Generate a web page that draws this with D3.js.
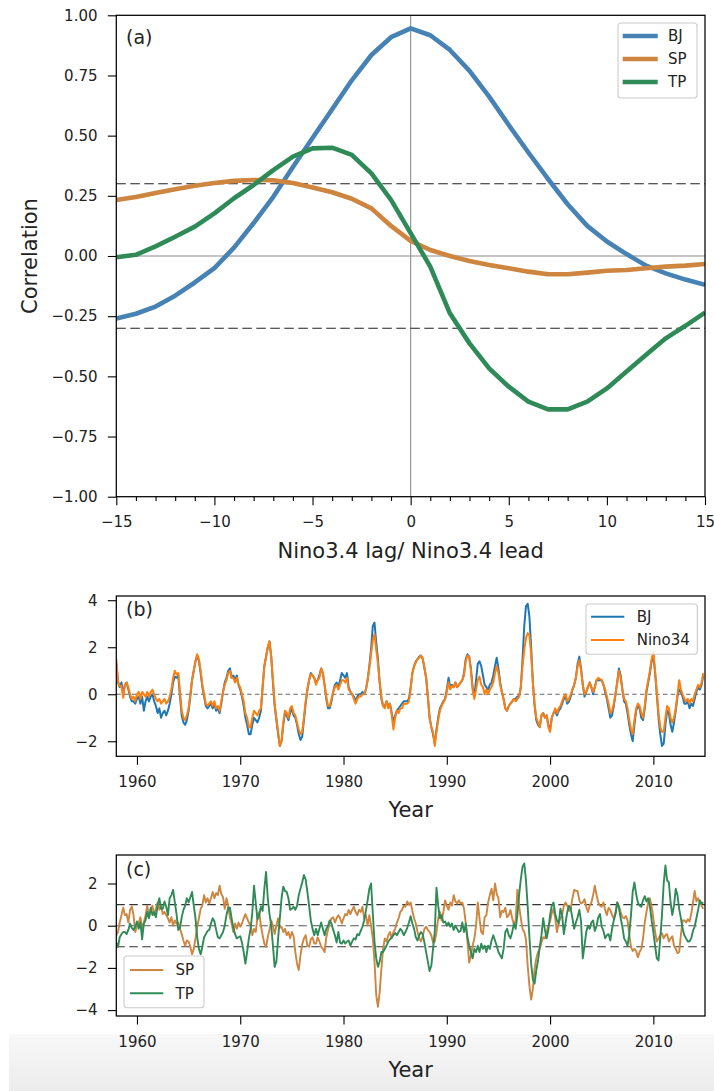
<!DOCTYPE html>
<html><head><meta charset="utf-8">
<script src="https://cdn.jsdelivr.net/npm/d3@7"></script>
<style>
body{margin:0;background:#fff;}
svg{display:block;}
</style></head><body>
<script>
// ---------------- DATA ----------------
const lags = [-15,-14,-13,-12,-11,-10,-9,-8,-7,-6,-5,-4,-3,-2,-1,0,1,2,3,4,5,6,7,8,9,10,11,12,13,14,15];
const corrBJ = [-0.26,-0.24,-0.21,-0.165,-0.11,-0.05,0.035,0.137,0.246,0.37,0.49,0.61,0.73,0.835,0.909,0.946,0.917,0.856,0.769,0.662,0.544,0.43,0.32,0.215,0.125,0.06,0.008,-0.04,-0.072,-0.098,-0.12];
const corrSP = [0.233,0.245,0.262,0.277,0.292,0.303,0.312,0.316,0.315,0.303,0.285,0.265,0.238,0.198,0.125,0.063,0.025,0.0,-0.021,-0.037,-0.051,-0.065,-0.076,-0.076,-0.069,-0.061,-0.058,-0.051,-0.044,-0.04,-0.033];
const corrTP = [-0.005,0.005,0.04,0.08,0.122,0.177,0.24,0.295,0.357,0.413,0.447,0.45,0.42,0.343,0.233,0.095,-0.044,-0.238,-0.363,-0.467,-0.543,-0.605,-0.637,-0.637,-0.605,-0.55,-0.48,-0.41,-0.342,-0.29,-0.235];
const corrTicks = [-1,-0.75,-0.5,-0.25,0,0.25,0.5,0.75,1];
const lagTicks = [-15,-10,-5,0,5,10,15];
const sigLevels = [0.3,-0.3];

// time series: bimonthly samples starting Jan 1958
const startYear = 1958, perYear = 6;
const bjIndex = [
1.3,0.5,0.3,0.5,0.0,0.4, 0.5,0.2,-0.1,-0.3,-0.3,-0.4, -0.2,-0.1,-0.4,-0.1,-0.7,-0.3, -0.1,-0.3,-0.1,0.0,-0.3,-0.5,
-0.8,-0.6,-1.0,-0.8,-0.7,-0.9, -0.7,-0.4,0.0,0.5,0.75,0.7, 0.8,-0.1,-0.9,-1.2,-1.3,-1.1, -0.7,-0.1,0.6,1.0,1.4,1.65,
1.4,0.9,0.3,-0.1,-0.5,-0.6, -0.5,-0.4,-0.6,-0.4,-0.7,-0.6, -0.8,-0.4,0.1,0.5,0.7,1.0, 1.1,0.7,0.8,0.6,0.8,0.4,
0.2,-0.1,-0.5,-1.0,-1.3,-1.7, -1.7,-1.3,-1.0,-1.1,-1.2,-1.0, -0.7,0.3,1.2,1.6,2.0,2.25, 1.6,0.5,-0.5,-1.1,-1.7,-2.2,
-2.0,-1.3,-0.8,-0.9,-1.1,-0.8, -0.6,-0.9,-1.0,-1.3,-1.7,-1.95, -1.8,-1.1,-0.4,0.2,0.6,0.9, 0.8,0.7,0.5,0.6,0.8,1.1,
0.9,0.4,-0.2,-0.6,-0.6,-0.3, 0.1,0.4,0.5,0.3,0.6,0.9, 0.8,0.7,0.9,0.3,0.1,0.0, -0.1,-0.3,-0.1,0.0,0.0,0.1,
0.0,0.2,0.6,1.2,1.9,2.9, 3.05,2.2,1.5,0.5,-0.2,-0.5, -0.5,-0.3,-0.5,-0.4,-0.8,-1.2, -0.9,-0.7,-0.6,-0.5,-0.4,-0.3,
-0.3,-0.3,-0.2,0.3,0.9,1.2, 1.4,1.5,1.6,1.65,1.5,1.1, 0.7,-0.1,-1.0,-1.4,-1.7,-2.1, -1.5,-1.0,-0.6,-0.45,-0.3,-0.2,
0.2,0.7,0.3,0.4,0.3,0.5, 0.3,0.4,0.5,0.6,0.9,1.5, 1.7,1.6,1.1,0.3,-0.1,0.6, 1.3,1.4,1.2,0.8,0.4,0.3,
0.2,0.4,0.5,0.8,1.2,1.55, 1.1,0.5,0.1,-0.2,-0.6,-0.7, -0.5,-0.4,-0.3,-0.2,-0.2,-0.1, -0.1,0.3,1.5,2.9,3.75,3.85,
3.3,2.0,0.5,-0.5,-1.1,-1.3, -1.4,-0.9,-0.8,-1.0,-0.9,-1.3, -1.5,-1.0,-0.8,-0.7,-0.9,-0.7, -0.6,-0.4,-0.2,-0.1,-0.4,-0.3,
-0.1,0.2,0.4,0.7,1.3,1.6, 1.1,0.4,-0.1,0.1,0.3,0.5, 0.3,0.0,0.3,0.6,0.6,0.6, 0.6,0.4,0.1,-0.2,-0.6,-1.0,
-0.9,-0.5,0.0,0.5,1.1,0.8, 0.2,-0.3,-0.4,-0.8,-1.3,-1.7, -2.0,-1.3,-0.7,-0.5,-0.6,-1.0, -1.1,-0.6,0.1,0.5,0.9,1.4,
1.7,0.9,0.0,-1.0,-1.7,-2.2, -2.1,-1.3,-0.7,-0.8,-1.3,-1.6, -1.2,-0.7,-0.1,0.2,0.1,-0.1, -0.4,-0.4,-0.3,-0.6,-0.4,-0.5,
-0.2,0.1,0.3,0.2,0.4,0.8];
const nino34 = [
1.5,0.55,0.35,0.35,-0.15,0.4, 0.5,0.3,0.0,-0.2,-0.1,-0.3, 0.0,0.1,-0.2,0.1,0.0,-0.1, 0.1,-0.1,0.1,0.2,0.0,-0.2,
-0.3,-0.2,-0.4,-0.3,-0.2,-0.4, -0.3,-0.1,0.2,0.7,1.0,0.85, 0.9,0.1,-0.7,-1.0,-1.1,-0.9, -0.6,0.0,0.6,1.0,1.4,1.7,
1.5,1.0,0.4,0.0,-0.4,-0.5, -0.4,-0.3,-0.5,-0.3,-0.6,-0.5, -0.7,-0.3,0.1,0.4,0.6,0.9, 1.0,0.7,0.7,0.5,0.7,0.4,
0.3,0.0,-0.3,-0.8,-1.0,-1.4, -1.4,-1.0,-0.7,-0.8,-0.9,-0.7, -0.6,0.3,1.2,1.6,2.0,2.25, 1.6,0.6,-0.4,-1.0,-1.6,-2.2,
-2.0,-1.2,-0.7,-0.8,-1.0,-0.6, -0.5,-0.8,-0.9,-1.2,-1.5,-1.7, -1.6,-1.0,-0.3,0.2,0.6,0.85, 0.8,0.7,0.4,0.6,0.7,1.1,
0.9,0.4,-0.1,-0.5,-0.5,-0.2, 0.1,0.3,0.4,0.2,0.4,0.6, 0.6,0.5,0.7,0.2,0.1,0.0, -0.2,-0.4,-0.2,-0.1,-0.1,0.0,
0.0,0.2,0.6,1.1,1.7,2.3, 2.55,1.9,1.3,0.5,-0.1,-0.5, -0.6,-0.3,-0.6,-0.4,-0.9,-1.5, -1.0,-0.7,-0.8,-0.6,-0.6,-0.4,
-0.4,-0.4,-0.3,0.2,0.9,1.2, 1.35,1.5,1.55,1.65,1.55,1.15, 0.7,-0.1,-1.0,-1.4,-1.6,-2.2, -1.6,-1.1,-0.7,-0.5,-0.35,-0.2,
0.1,0.5,0.2,0.35,0.3,0.5, 0.3,0.4,0.5,0.6,0.8,1.4, 1.65,1.6,1.0,0.2,-0.2,0.2, 0.6,0.75,0.4,0.3,0.0,0.2,
0.0,0.2,0.3,0.5,0.9,1.2, 0.9,0.4,0.1,-0.2,-0.6,-0.7, -0.5,-0.4,-0.3,-0.2,-0.3,-0.2, -0.1,0.3,1.2,1.9,2.4,2.6,
2.5,1.7,0.5,-0.4,-1.0,-1.2, -1.4,-0.9,-0.8,-1.0,-0.9,-1.4, -1.6,-1.0,-0.8,-0.6,-0.8,-0.6, -0.5,-0.3,-0.1,0.0,-0.3,-0.2,
0.0,0.2,0.4,0.7,1.2,1.45, 1.0,0.4,0.0,0.1,0.3,0.5, 0.3,0.1,0.3,0.6,0.7,0.65, 0.6,0.4,0.2,-0.1,-0.4,-0.8,
-0.7,-0.4,0.0,0.5,1.0,0.7, 0.2,-0.2,-0.3,-0.6,-1.1,-1.5, -1.7,-1.1,-0.6,-0.4,-0.5,-0.8, -1.0,-0.5,0.2,0.6,1.0,1.5,
1.8,1.0,0.1,-0.8,-1.4,-1.6, -1.6,-1.0,-0.5,-0.6,-1.0,-1.2, -1.0,-0.6,0.0,0.6,0.2,0.0, -0.2,-0.3,-0.2,-0.4,-0.2,-0.3,
0.0,0.2,0.4,0.3,0.5,0.9];
const spIndex = [
-0.45,-0.3,0.15,0.5,0.85,0.5, 0.55,0.15,0.75,0.9,0.5,-0.3, 0.0,0.1,0.4,-0.15,0.15,0.5, 0.95,0.4,0.75,0.95,0.5,0.8,
1.1,0.75,0.95,0.55,0.65,0.5, 0.35,0.15,0.4,0.0,0.25,0.1, 0.15,-0.15,-0.4,-0.7,-0.95,-0.7, -0.75,-1.0,-1.35,-1.1,-0.6,-0.05,
0.35,0.8,0.95,1.45,1.1,1.3, 1.05,1.3,1.6,1.3,1.55,1.45, 1.9,1.5,1.35,0.8,1.3,0.95, 0.4,0.1,-0.3,0.1,-0.15,0.15,
-0.05,0.1,0.35,0.55,0.35,0.15, 0.0,-0.45,-0.15,-0.3,0.4,0.65, 0.0,-0.45,-0.85,-1.0,-0.55,-0.2, 0.25,0.0,-0.4,0.0,0.35,-0.1,
-0.05,-0.3,-0.15,-0.45,-0.3,-0.6, -0.3,-0.5,-1.25,-1.8,-2.1,-1.4, -0.9,-0.6,-0.45,-0.95,-1.0,-0.65, -0.55,-0.85,-0.85,-0.55,-0.75,-1.0,
-1.1,-1.25,-0.55,-0.2,0.15,0.35, 0.4,0.15,0.35,0.5,0.35,0.1, 0.35,0.55,0.5,0.75,0.55,0.75, 0.9,0.65,0.5,0.75,0.65,0.9,
0.35,0.5,0.0,0.5,0.0,-0.6, -1.7,-3.3,-3.85,-3.15,-2.05,-1.1, -0.6,-0.75,-0.45,-0.3,-0.6,-0.3, -0.15,0.15,0.35,0.65,0.75,0.95,
0.9,1.15,1.0,1.1,0.7,0.35, 0.1,-0.3,-0.6,-0.75,-0.5,-0.15, -0.05,-0.2,-0.3,-0.45,-0.8,-0.75, -0.3,0.35,0.65,0.25,0.65,1.2,
0.95,0.75,1.1,0.95,1.45,1.15, 1.05,1.2,1.05,1.1,0.8,0.15, -0.75,-1.75,-1.4,-0.95,-0.6,0.0, 1.1,0.35,-0.3,-0.4,0.4,0.5,
1.1,1.45,1.75,1.2,2.0,1.5, 1.3,0.4,0.7,0.65,0.85,0.4, 0.5,0.75,0.35,0.05,0.25,1.7, 0.95,0.35,-0.15,-0.3,-0.65,-1.9,
-2.85,-3.5,-3.0,-2.05,-1.55,-1.25, -1.1,-0.8,-0.55,-0.6,-0.3,0.0, 0.2,0.6,0.8,0.35,-0.3,0.15, 0.35,0.5,0.95,1.1,0.95,0.7,
0.8,1.3,1.7,1.65,1.65,1.2, 1.05,1.1,1.25,0.9,0.65,0.95, 1.1,1.45,1.9,1.45,1.1,0.95, 0.9,1.1,0.75,0.5,0.85,0.75,
0.5,0.35,0.6,1.1,0.95,0.65, 0.4,0.35,0.45,0.25,-0.4,-1.0, -1.2,-1.1,-1.2,-1.5,-1.25,-1.1, -0.6,0.15,0.65,1.1,1.3,0.9,
0.35,-0.3,-0.75,-0.6,-0.45,-0.35, -0.6,-0.45,-0.4,-0.75,-0.6,-0.5, -0.95,-1.1,-1.3,-1.25,-0.45,0.25, 0.25,0.15,0.3,0.2,0.55,1.1,
1.65,1.15,1.3,1.1,0.95,0.8];
const tpIndex = [
-0.8,-1.0,-0.55,-0.4,-0.3,-0.3, -0.4,-0.2,0.1,-0.1,-0.2,-0.05, 0.2,-0.15,0.15,-0.65,0.1,0.25, 0.65,0.35,0.85,0.5,0.65,0.4,
0.95,1.3,0.8,0.8,1.15,0.9, 0.5,1.3,1.45,1.7,1.1,0.55, -0.2,-0.1,0.4,0.75,0.95,1.3, 1.1,1.35,1.6,0.95,0.35,-0.55,
-1.1,-1.35,-1.0,-0.55,-0.4,-0.25, -0.2,0.1,0.35,0.2,-0.2,-0.55, -0.6,-0.45,-0.3,0.0,0.5,0.85, 0.85,0.35,-0.1,-0.4,-0.6,-0.55,
-0.5,-0.8,-1.25,-1.8,-1.25,-0.6, -0.15,0.6,1.9,1.1,0.3,0.5, 0.9,0.7,1.75,2.55,1.3,0.55, 0.0,-0.95,-1.95,-1.7,-0.6,0.35,
1.3,1.85,1.65,1.6,1.3,0.75, 0.8,0.9,0.75,0.95,1.45,1.75, 2.05,2.4,2.2,1.6,0.95,0.25, -0.15,-0.45,-0.15,-0.45,-0.15,0.15,
-0.15,-0.45,-0.15,0.0,0.25,0.1, -0.2,-0.45,-0.8,-0.3,-0.8,-0.85, -0.7,-0.85,-0.75,-0.7,-0.95,-0.75, -0.6,-0.65,-0.4,-0.45,-0.25,-0.05,
0.25,0.7,1.2,1.75,2.0,0.6, -0.75,-1.55,-1.95,-1.7,-1.25,-1.25, -1.1,-0.95,-0.75,-0.65,-0.55,-0.45, -0.35,-0.45,-0.3,-0.15,-0.25,-0.45,
-0.3,-0.1,0.15,0.45,0.1,-0.15, -0.55,-0.7,-0.45,-0.3,-0.4,-0.8, -1.25,-1.7,-2.15,-1.9,-1.1,-0.3, 1.8,0.95,0.35,0.5,0.15,0.2,
0.0,0.15,-0.05,0.1,-0.2,0.0, -0.15,-0.3,-0.25,0.15,-0.3,0.1, -0.55,-0.95,-1.25,-1.55,-1.1,-1.25, -0.95,-1.25,-0.85,-1.1,-0.95,-1.25,
-0.95,-1.1,-0.7,-0.45,-0.7,-0.95, -1.25,-1.4,-1.55,-1.1,-0.3,-0.15, -0.45,-0.6,-0.3,0.1,-0.15,0.5, 1.45,2.2,2.8,2.95,2.15,0.9,
-0.55,-1.8,-2.55,-2.75,-2.1,-1.65, -1.0,-0.45,0.35,-0.2,-0.6,-0.2, 0.5,0.95,1.1,0.55,0.25,0.1, 0.8,0.5,-0.4,0.15,0.65,0.95,
0.8,0.35,-0.15,0.15,0.4,0.75, 0.2,-1.55,-0.95,-0.3,0.0,-0.15, 0.15,0.25,-0.25,0.0,0.4,0.55, -0.05,-0.25,-0.6,-0.45,-0.4,-0.7,
-0.15,0.25,0.55,1.1,0.85,0.35, -0.05,-0.6,-0.75,-0.95,-0.4,0.5, 1.6,2.05,1.5,1.1,0.95,0.9, 1.2,1.4,1.15,1.3,0.9,0.25,
-0.3,-0.95,-1.55,-1.65,-0.6,0.5, 2.0,2.85,2.15,2.05,1.1,0.5, 0.95,1.75,1.45,0.8,0.35,-0.15, -0.45,-0.6,-0.75,-0.75,-0.6,-0.25,
-0.05,0.35,0.75,1.2,1.05,1.1];
const yearTicks = [1960,1970,1980,1990,2000,2010];
const bTicks = [-2,0,2,4];
const cTicks = [-4,-2,0,2];
const cThresholds = [1,0,-1];

// ---------------- DRAWING ----------------
const W = 714, H = 1091;
const FONT = "'DejaVu Sans', 'Liberation Sans', sans-serif";
const svg = d3.select("body").append("svg").attr("width", W).attr("height", H)
  .style("font-family", FONT);
const defs = svg.append("defs");

// screenshot band at bottom
const grad = defs.append("linearGradient").attr("id", "band").attr("x1", 0).attr("y1", 0).attr("x2", 0).attr("y2", 1);
grad.append("stop").attr("offset", 0).attr("stop-color", "#f8f8f8");
grad.append("stop").attr("offset", 1).attr("stop-color", "#ececec");
svg.append("rect").attr("x", 9).attr("y", 1034).attr("width", W - 9).attr("height", H - 1034).attr("fill", "url(#band)");

const L = 116.3, R = 705;
const TICK = 8.5, TICKW = 1.1;

function makePanel(id, top, bottom, xDomain, yDomain) {
  const x = d3.scaleLinear().domain(xDomain).range([L, R]);
  const y = d3.scaleLinear().domain(yDomain).range([bottom, top]);
  defs.append("clipPath").attr("id", "clip" + id).append("rect")
    .attr("x", L).attr("y", top).attr("width", R - L).attr("height", bottom - top);
  const g = svg.append("g");
  const plot = g.append("g").attr("clip-path", "url(#clip" + id + ")");
  return { x, y, g, plot, top, bottom };
}

function styleAxis(sel) {
  sel.select(".domain").remove();
  sel.selectAll(".tick line").attr("stroke", "#000").attr("stroke-width", TICKW);
  sel.selectAll(".tick text").attr("fill", "#222").style("font-size", "15px").style("font-family", FONT);
}

function drawAxes(p, xTicks, yTicks, yFormat, xFormat) {
  const ax = p.g.append("g").attr("transform", `translate(0,${p.bottom})`)
    .call(d3.axisBottom(p.x).tickValues(xTicks).tickSize(TICK).tickPadding(11.5).tickFormat(xFormat));
  styleAxis(ax);
  const ay = p.g.append("g").attr("transform", `translate(${L},0)`)
    .call(d3.axisLeft(p.y).tickValues(yTicks).tickSize(TICK).tickPadding(10.3).tickFormat(yFormat));
  styleAxis(ay);
}

function frame(p) {
  p.g.append("rect").attr("x", L).attr("y", p.top).attr("width", R - L).attr("height", p.bottom - p.top)
    .attr("fill", "none").attr("stroke", "#000").attr("stroke-width", 1.25);
}

function legend(g, box, rows, x0, x1, tx, lw) {
  g.append("rect").attr("x", box[0]).attr("y", box[1]).attr("width", box[2]).attr("height", box[3])
    .attr("rx", 3).attr("fill", "#fff").attr("fill-opacity", 0.8).attr("stroke", "#cccccc").attr("stroke-width", 1.1);
  rows.forEach(r => {
    g.append("line").attr("x1", x0).attr("x2", x1).attr("y1", r.y).attr("y2", r.y)
      .attr("stroke", r.color).attr("stroke-width", lw);
    g.append("text").attr("x", tx).attr("y", r.y).attr("dy", "0.36em").text(r.label)
      .style("font-size", "15px").attr("fill", "#222");
  });
}

function panelLabel(g, text, y) {
  g.append("text").attr("x", 126).attr("y", y).text(text).style("font-size", "19px").attr("fill", "#222");
}

function axisLabelX(g, text, y) {
  g.append("text").attr("x", (L + R) / 2).attr("y", y).attr("text-anchor", "middle").text(text)
    .style("font-size", "21px").attr("fill", "#222");
}

// ---- Panel (a)
const pa = makePanel("a", 15.3, 496.7, [-15, 15], [-1, 1]);
// reference lines
pa.plot.append("line").attr("x1", L).attr("x2", R).attr("y1", pa.y(0)).attr("y2", pa.y(0))
  .attr("stroke", "#8c8c8c").attr("stroke-width", 1.1);
pa.plot.append("line").attr("x1", pa.x(0)).attr("x2", pa.x(0)).attr("y1", pa.top).attr("y2", pa.bottom)
  .attr("stroke", "#8c8c8c").attr("stroke-width", 1.1);
sigLevels.forEach(s => pa.plot.append("line").attr("x1", L).attr("x2", R).attr("y1", pa.y(s)).attr("y2", pa.y(s))
  .attr("stroke", "#222").attr("stroke-width", 1.1).attr("stroke-dasharray", "9.5,4.5"));
const lineA = d3.line().x(d => pa.x(d[0])).y(d => pa.y(d[1]));
[[corrBJ, "#4682b4"], [corrSP, "#cd853f"], [corrTP, "#2e8b57"]].forEach(([vals, col]) => {
  pa.plot.append("path").datum(lags.map((l, i) => [l, vals[i]])).attr("d", lineA)
    .attr("fill", "none").attr("stroke", col).attr("stroke-width", 4.6).attr("stroke-linejoin", "round");
});
// minor ticks on x
const minor = pa.g.append("g").attr("transform", `translate(0,${pa.bottom})`)
  .call(d3.axisBottom(pa.x).tickValues(lags.filter(l => l % 5 !== 0)).tickSize(4.2).tickFormat(""));
styleAxis(minor);
drawAxes(pa, lagTicks, corrTicks, d3.format(".2f"), d3.format("d"));
frame(pa);
legend(pa.g, [618, 23, 79, 75], [
  { y: 36, color: "#4682b4", label: "BJ" },
  { y: 59, color: "#cd853f", label: "SP" },
  { y: 82, color: "#2e8b57", label: "TP" }], 622.7, 657.7, 668, 4.6);
panelLabel(pa.g, "(a)", 44);
axisLabelX(pa.g, "Nino3.4 lag/ Nino3.4 lead", 557.5);
pa.g.append("text").attr("transform", `translate(37,${(pa.top + pa.bottom) / 2}) rotate(-90)`)
  .attr("text-anchor", "middle").text("Correlation").style("font-size", "21px").attr("fill", "#222");

// ---- time helper
const series = vals => vals.map((v, i) => [startYear + i / perYear, v]);

// ---- Panel (b)
const pb = makePanel("b", 596, 756.3, [1958, 2015], [-2.64, 4.18]);
pb.plot.append("line").attr("x1", L).attr("x2", R).attr("y1", pb.y(0)).attr("y2", pb.y(0))
  .attr("stroke", "#666").attr("stroke-width", 1.2).attr("stroke-dasharray", "4.5,3.2");
const lineB = d3.line().x(d => pb.x(d[0])).y(d => pb.y(d[1]));
[[bjIndex, "#1f77b4"], [nino34, "#ff7f0e"]].forEach(([vals, col]) => {
  pb.plot.append("path").datum(series(vals)).attr("d", lineB)
    .attr("fill", "none").attr("stroke", col).attr("stroke-width", 2).attr("stroke-linejoin", "round");
});
drawAxes(pb, yearTicks, bTicks, d3.format("d"), d3.format("d"));
frame(pb);
legend(pb.g, [586, 604, 111.3, 50.3], [
  { y: 616.7, color: "#1f77b4", label: "BJ" },
  { y: 640, color: "#ff7f0e", label: "Nino34" }], 591, 624.3, 636.7, 2);
panelLabel(pb.g, "(b)", 616);
axisLabelX(pb.g, "Year", 817);

// ---- Panel (c)
const pc = makePanel("c", 855, 1016, [1958, 2015], [-4.28, 3.35]);
cThresholds.forEach(t => pc.plot.append("line").attr("x1", L).attr("x2", R).attr("y1", pc.y(t)).attr("y2", pc.y(t))
  .attr("stroke", t === 0 ? "#555" : "#333").attr("stroke-width", 1.1).attr("stroke-dasharray", "8.5,4.5"));
const lineC = d3.line().x(d => pc.x(d[0])).y(d => pc.y(d[1]));
[[spIndex, "#cd853f"], [tpIndex, "#2e8b57"]].forEach(([vals, col]) => {
  pc.plot.append("path").datum(series(vals)).attr("d", lineC)
    .attr("fill", "none").attr("stroke", col).attr("stroke-width", 1.9).attr("stroke-linejoin", "round");
});
drawAxes(pc, yearTicks, cTicks, d3.format("d"), d3.format("d"));
frame(pc);
legend(pc.g, [124, 956, 80, 51.7], [
  { y: 970, color: "#cd853f", label: "SP" },
  { y: 993.3, color: "#2e8b57", label: "TP" }], 130, 163.3, 175.5, 2);
panelLabel(pc.g, "(c)", 876);
axisLabelX(pc.g, "Year", 1076.7);
</script>
</body></html>
